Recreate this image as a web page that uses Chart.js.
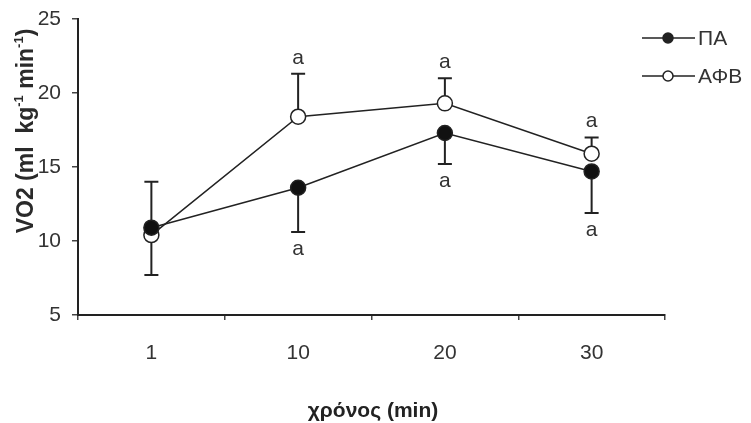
<!DOCTYPE html>
<html lang="el">
<head>
<meta charset="UTF-8">
<title>VO2 - χρόνος</title>
<script src="https://cdn.jsdelivr.net/npm/chart.js"></script>
<style>
    html, body { margin: 0; padding: 0; background: #fff; }
    #wrap { width: 751px; height: 423px; }
</style>
</head>
<body>
<div id="wrap"><canvas id="vo2Chart" width="751" height="423"></canvas></div>
<script>
    // data
    const xronos = ['1', '10', '20', '30'];
    const paValues = [10.9, 13.6, 17.3, 14.7];
    const afbValues = [10.4, 18.4, 19.3, 15.9];
    const paErrDown = [3.2, 3.0, 2.1, 2.8];
    const afbErrUp = [3.6, 2.9, 1.7, 1.1];
    const paSig = ['', 'a', 'a', 'a'];
    const afbSig = ['', 'a', 'a', 'a'];
    const yTicks = [5, 10, 15, 20, 25];

    const FONT = "'Liberation Sans', Arial, sans-serif";
    const INK = '#222';

    function cap(ctx, x, yFrom, yTo) {
        ctx.beginPath();
        ctx.moveTo(x, yFrom);
        ctx.lineTo(x, yTo);
        ctx.moveTo(x - 7, yTo);
        ctx.lineTo(x + 7, yTo);
        ctx.stroke();
    }

    const extras = {
        id: 'extras',
        beforeDatasetsDraw(chart) {
            const ctx = chart.ctx, x = chart.scales.x, y = chart.scales.y;
            ctx.save();
            ctx.strokeStyle = INK;
            ctx.lineWidth = 2;
            xronos.forEach((c, i) => {
                const px = x.getPixelForValue(i);
                cap(ctx, px, y.getPixelForValue(paValues[i]), y.getPixelForValue(paValues[i] - paErrDown[i]));
                cap(ctx, px, y.getPixelForValue(afbValues[i]), y.getPixelForValue(afbValues[i] + afbErrUp[i]));
            });
            ctx.restore();
        },
        afterDraw(chart) {
            const ctx = chart.ctx, x = chart.scales.x, y = chart.scales.y;
            ctx.save();
            ctx.fillStyle = '#333';
            ctx.font = '21px ' + FONT;
            ctx.textAlign = 'center';
            ctx.textBaseline = 'middle';
            xronos.forEach((c, i) => {
                const px = x.getPixelForValue(i);
                if (afbSig[i]) ctx.fillText(afbSig[i], px, y.getPixelForValue(afbValues[i] + afbErrUp[i]) - 16);
                if (paSig[i]) ctx.fillText(paSig[i], px, y.getPixelForValue(paValues[i] - paErrDown[i]) + 17);
            });

            // legend
            const rows = [
                { label: 'ΠΑ', fill: INK, y: 38 },
                { label: 'ΑΦΒ', fill: '#fff', y: 76 }
            ];
            rows.forEach(r => {
                ctx.strokeStyle = INK;
                ctx.lineWidth = 1.5;
                ctx.beginPath();
                ctx.moveTo(642, r.y);
                ctx.lineTo(695, r.y);
                ctx.stroke();
                ctx.beginPath();
                ctx.arc(668, r.y, 5, 0, Math.PI * 2);
                ctx.fillStyle = r.fill;
                ctx.fill();
                ctx.stroke();
                ctx.fillStyle = '#333';
                ctx.textAlign = 'left';
                ctx.font = '21px ' + FONT;
                ctx.fillText(r.label, 698, r.y + 1);
            });

            // x title
            ctx.fillStyle = INK;
            ctx.textAlign = 'center';
            ctx.font = "bold 21px 'Liberation Sans Narrow', 'Liberation Sans', Arial, sans-serif";
            ctx.fillText('χρόνος (min)', 373, 411);

            // y title with superscripts
            const parts = [
                ['VO2 (ml  kg', false], ['-1', true], [' min', false], ['-1', true], [')', false]
            ];
            const big = 'bold 23px ' + FONT, small = 'bold 13px ' + FONT;
            let total = 0;
            parts.forEach(p => { ctx.font = p[1] ? small : big; total += ctx.measureText(p[0]).width; });
            ctx.translate(24, 131);
            ctx.rotate(-Math.PI / 2);
            ctx.textAlign = 'left';
            ctx.textBaseline = 'alphabetic';
            ctx.fillStyle = '#2a2a2a';
            let cx = -total / 2;
            parts.forEach(p => {
                ctx.font = p[1] ? small : big;
                ctx.fillText(p[0], cx, p[1] ? -1 : 9);
                cx += ctx.measureText(p[0]).width;
            });
            ctx.restore();
        }
    };

    new Chart(document.getElementById('vo2Chart'), {
        type: 'line',
        data: {
            labels: xronos,
            datasets: [{
                label: 'ΠΑ',
                data: paValues,
                borderColor: INK,
                borderWidth: 1.5,
                backgroundColor: INK,
                pointBackgroundColor: '#111',
                pointBorderColor: INK,
                pointRadius: 7.5,
                pointBorderWidth: 1.5,
                tension: 0
            }, {
                label: 'ΑΦΒ',
                data: afbValues,
                borderColor: INK,
                borderWidth: 1.5,
                backgroundColor: '#fff',
                pointBackgroundColor: '#fff',
                pointBorderColor: INK,
                pointRadius: 7.5,
                pointBorderWidth: 1.5,
                tension: 0
            }]
        },
        options: {
            responsive: false,
            animation: false,
            layout: { padding: { top: 19, right: 86, left: 0, bottom: 0 } },
            plugins: { legend: { display: false }, tooltip: { enabled: false } },
            scales: {
                x: {
                    offset: true,
                    grid: { display: true, drawOnChartArea: false, tickLength: 5, color: '#444', lineWidth: 1.5, offset: true },
                    border: { color: INK, width: 2 },
                    ticks: { color: '#333', font: { family: FONT, size: 21 }, padding: 21 },
                    afterFit: s => { s.height = 108; }
                },
                y: {
                    min: 5,
                    max: 25,
                    afterBuildTicks: s => { s.ticks = yTicks.map(v => ({ value: v })); },
                    grid: { display: true, drawOnChartArea: false, tickLength: 6, color: '#444', lineWidth: 1.5 },
                    border: { color: INK, width: 2 },
                    ticks: { color: '#333', font: { family: FONT, size: 21, lineHeight: 0.6 }, padding: 11 },
                    afterFit: s => { s.width = 78; }
                }
            }
        },
        plugins: [extras]
    });
</script>
</body>
</html>
